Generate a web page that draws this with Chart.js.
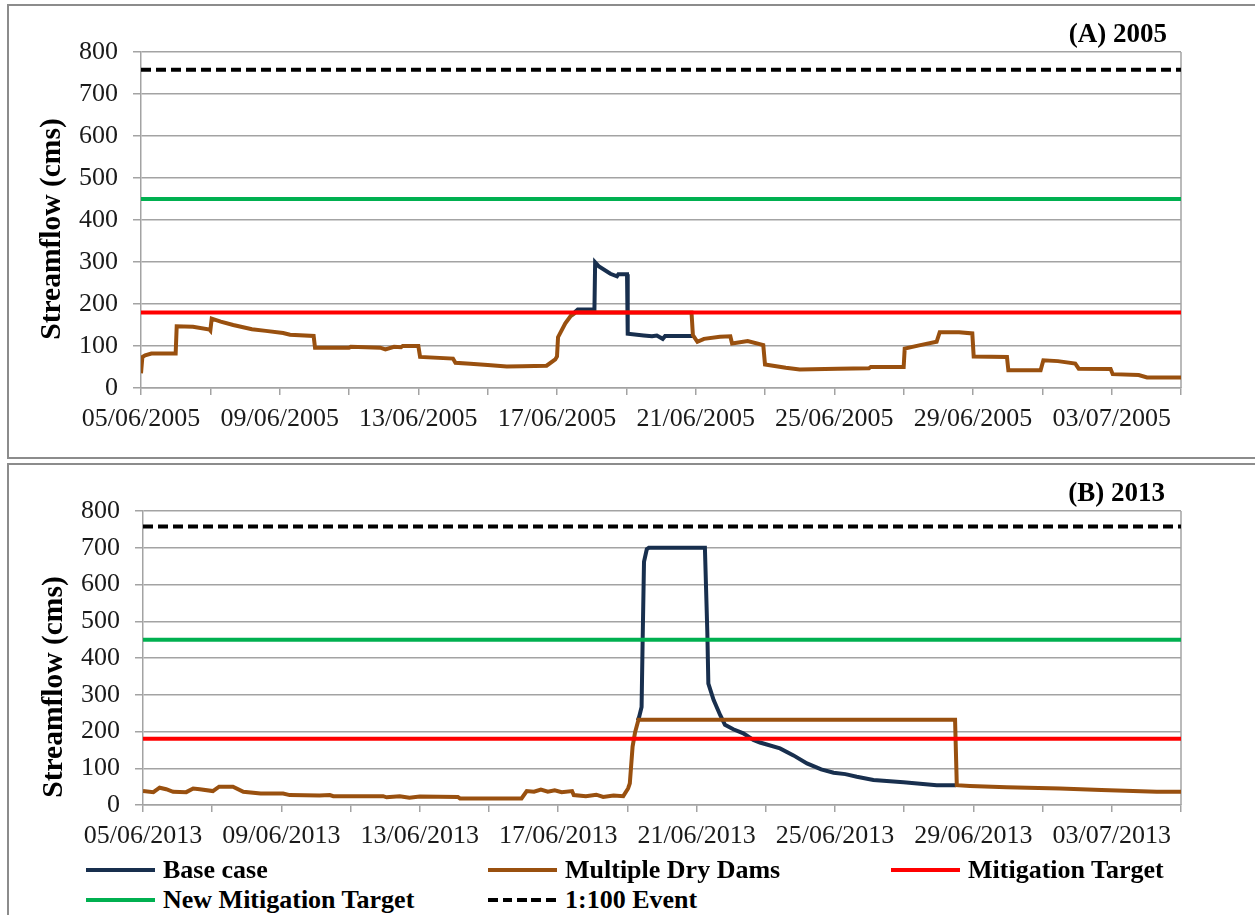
<!DOCTYPE html>
<html>
<head>
<meta charset="utf-8">
<script src="https://cdn.jsdelivr.net/npm/chart.js@4.4.1/dist/chart.umd.min.js"></script>
<style>
  body {
    margin: 0;
    width: 1255px;
    height: 915px;
    overflow: hidden;
    background: #fff;
    position: relative;
    font-family: "Liberation Serif", "Times New Roman", serif;
  }
  .box {
    position: absolute;
    left: 7px;
    width: 1320px;
    border: 2px solid #8c8c8c;
    box-sizing: border-box;
  }
  canvas { position: absolute; left: 0; }
  .panel-title {
    position: absolute;
    font-weight: bold;
    font-size: 27px;
    line-height: 30px;
    text-align: right;
    width: 300px;
  }
  .ytitle {
    position: absolute;
    font-weight: bold;
    font-size: 29.5px;
    line-height: 30px;
    width: 300px;
    text-align: center;
    transform: rotate(-90deg);
    white-space: nowrap;
  }
  .leg {
    position: absolute;
    font-weight: bold;
    font-size: 26px;
    line-height: 30px;
    white-space: nowrap;
    display: flex;
    align-items: center;
  }
  .leg .ln {
    display: inline-block;
    width: 69px;
    height: 4px;
    margin-right: 8px;
  }
</style>
</head>
<body>
<div class="box" style="top:4px; height:455px"></div>
<div class="box" style="top:463px; height:500px"></div>

<canvas id="chart2005" width="1255" height="460" style="top:0"></canvas>
<canvas id="chart2013" width="1255" height="400" style="top:460px"></canvas>

<div class="panel-title" style="left:867px; top:18px">(A) 2005</div>
<div class="panel-title" style="left:865px; top:477px">(B) 2013</div>
<div class="ytitle" style="left:-100px; top:214px">Streamflow (cms)</div>
<div class="ytitle" style="left:-98px; top:672px">Streamflow (cms)</div>

<div id="legend"></div>

<script>
// Colours of the series
const BASE_COLOR = '#182F4E';
const DAMS_COLOR = '#99500F';
const MITIGATION_COLOR = '#FF0000';
const NEW_MITIGATION_COLOR = '#00B050';
const EVENT_COLOR = '#000000';
const GRID_COLOR = '#a3a3a3';

// Flow thresholds (cms)
const mitigationTarget = 180;
const newMitigationTarget = 450;
const event100 = 758;

const yTicks = [0, 100, 200, 300, 400, 500, 600, 700, 800];

// 2005 event, days after 05/06/2005
const dams2005Day = [0, 0.04, 0.12, 0.3, 1.0, 1.03, 1.5, 1.98, 2.0, 2.04, 2.3, 2.66, 3.2, 3.6, 4.1, 4.3,
  4.98, 5.02, 6.0, 6.05, 6.9, 7.05, 7.3, 7.5, 7.55, 8.0, 8.05, 9.0, 9.07, 9.5, 10.0, 10.55, 11.0, 11.7,
  11.95, 12.0, 12.03, 12.24, 12.4, 12.55, 15.88, 15.92, 16.05, 16.24, 16.7, 17.0, 17.05, 17.5, 17.95,
  18.0, 18.6, 19.0, 20.1, 21.0, 21.05, 22.0, 22.03, 22.48, 22.95, 23.04, 23.6, 23.98, 24.02, 24.98,
  25.02, 25.95, 26.03, 26.45, 26.95, 27.05, 27.97, 28.03, 28.78, 29.02, 30];
const dams2005Flow = [35, 74, 78, 82, 82, 147, 146, 139, 137, 165, 158, 150, 140, 136, 131, 127,
  124, 96, 96, 98, 96, 92, 98, 97, 100, 100, 74, 70, 60, 58, 55, 51, 52, 53,
  68, 75, 121, 154, 172, 180, 180, 126, 110, 117, 122, 123, 106, 112, 102,
  56, 48, 44, 46, 47, 50, 50, 94, 102, 110, 133, 133, 130, 75, 74,
  42, 42, 66, 64, 58, 46, 45, 33, 31, 25, 25];
const base2005Day = [12.4, 12.6, 13.08, 13.1, 13.2, 13.54, 13.73, 13.77, 14.02, 14.04, 14.5, 14.74,
  14.88, 15.05, 15.12, 15.94];
const base2005Flow = [172, 187, 187, 299, 290, 272, 266, 271, 271, 129, 125, 123,
  125, 117, 124, 124];

// 2013 event, days after 05/06/2013
const dams2013Day = [0, 0.3, 0.48, 0.67, 0.87, 1.25, 1.45, 1.64, 2.02, 2.2, 2.6, 2.9, 3.4, 4.05, 4.24,
  5.1, 5.4, 5.5, 6.94, 7.04, 7.42, 7.7, 8.0, 9.1, 9.16, 10.94, 11.09, 11.3, 11.5, 11.7, 11.9, 12.1,
  12.4, 12.45, 12.8, 13.1, 13.3, 13.6, 13.88, 14.02, 14.07, 14.15, 14.22, 14.32, 23.47, 23.52, 23.9,
  24.96, 26.5, 27.7, 29.3, 30];
const dams2013Flow = [38, 35, 47, 43, 36, 35, 45, 43, 38, 50, 50, 36, 31, 31, 27,
  26, 27, 24, 24, 21, 24, 20, 23, 22, 18, 18, 38, 36, 42, 36, 40, 35,
  38, 27, 24, 28, 22, 26, 24, 45, 59, 159, 197, 232, 232, 54, 52,
  48, 45, 41, 36, 36];
const base2013Day = [14.3, 14.34, 14.41, 14.44, 14.48, 14.56, 14.62, 16.24, 16.31, 16.34, 16.49, 16.68,
  16.82, 17.06, 17.35, 17.64, 17.83, 18.41, 18.8, 19.19, 19.6, 19.96, 20.3, 20.63, 21.11, 21.98,
  22.94, 23.5];
const base2013Flow = [230, 240, 267, 444, 662, 696, 700, 700, 470, 330, 286, 245,
  218, 206, 195, 177, 170, 154, 135, 113, 97, 88, 84, 77, 68, 62,
  54, 54];

function toPoints(days, flows) {
  return days.map((d, i) => ({ x: d, y: flows[i] }));
}

function flatLine(value) {
  return [{ x: 0, y: value }, { x: 30, y: value }];
}

function formatDay(year, offset) {
  const dt = new Date(Date.UTC(year, 5, 5) + offset * 86400000);
  const dd = String(dt.getUTCDate()).padStart(2, '0');
  const mm = String(dt.getUTCMonth() + 1).padStart(2, '0');
  return dd + '/' + mm + '/' + dt.getUTCFullYear();
}

// right edge of the plot area
const plotFrame = {
  id: 'plotFrame',
  beforeDatasetsDraw(chart) {
    const { ctx, chartArea } = chart;
    ctx.save();
    ctx.strokeStyle = GRID_COLOR;
    ctx.lineWidth = 1.5;
    ctx.beginPath();
    ctx.moveTo(chartArea.right, chartArea.top);
    ctx.lineTo(chartArea.right, chartArea.bottom);
    ctx.stroke();
    ctx.restore();
  }
};

function renderPanel(canvasId, year, damsPts, basePts, area) {
  const canvas = document.getElementById(canvasId);
  const lineStyle = { pointRadius: 0, borderWidth: 4, tension: 0, fill: false };

  return new Chart(canvas, {
    type: 'line',
    data: {
      datasets: [
        { label: 'Base case', data: basePts, borderColor: BASE_COLOR, order: 5, ...lineStyle },
        { label: 'Multiple Dry Dams', data: damsPts, borderColor: DAMS_COLOR, order: 4, ...lineStyle },
        { label: 'Mitigation Target', data: flatLine(mitigationTarget), borderColor: MITIGATION_COLOR, order: 3, ...lineStyle },
        { label: 'New Mitigation Target', data: flatLine(newMitigationTarget), borderColor: NEW_MITIGATION_COLOR, order: 2, ...lineStyle },
        { label: '1:100 Event', data: flatLine(event100), borderColor: EVENT_COLOR, borderDash: [10, 5], order: 1, ...lineStyle }
      ]
    },
    options: {
      responsive: false,
      animation: false,
      layout: {
        padding: { left: 0, top: area.top, right: canvas.width - area.right, bottom: 0 }
      },
      plugins: {
        legend: { display: false },
        tooltip: { enabled: false }
      },
      scales: {
        x: {
          type: 'linear',
          min: 0,
          max: 30,
          afterFit: s => { s.height = canvas.height - area.bottom; },
          grid: { drawOnChartArea: false, drawTicks: true, tickLength: 7, color: GRID_COLOR, lineWidth: 1.5 },
          border: { display: true, color: GRID_COLOR, width: 1.5 },
          ticks: {
            stepSize: 2,
            autoSkip: false,
            maxRotation: 0,
            padding: 9,
            color: '#1a1a1a',
            font: { family: 'Liberation Serif', size: 26 },
            callback: v => (v % 4 === 0 && v < 30) ? formatDay(year, v) : ''
          }
        },
        y: {
          min: yTicks[0],
          max: yTicks[yTicks.length - 1],
          afterFit: s => { s.width = area.left; },
          grid: { color: GRID_COLOR, lineWidth: 1.5, tickLength: 8 },
          border: { display: true, color: GRID_COLOR, width: 1.5 },
          ticks: {
            stepSize: 100,
            padding: 15,
            color: '#1a1a1a',
            font: { family: 'Liberation Serif', size: 26 }
          }
        }
      }
    },
    plugins: [plotFrame]
  });
}

renderPanel('chart2005', 2005, toPoints(dams2005Day, dams2005Flow), toPoints(base2005Day, base2005Flow),
  { left: 141, right: 1181, top: 52, bottom: 388 });
renderPanel('chart2013', 2013, toPoints(dams2013Day, dams2013Flow), toPoints(base2013Day, base2013Flow),
  { left: 143, right: 1181, top: 51, bottom: 345 });

// legend below the 2013 panel
const legendItems = [
  { label: 'Base case', color: BASE_COLOR, dash: false, left: 86, top: 855 },
  { label: 'Multiple Dry Dams', color: DAMS_COLOR, dash: false, left: 488, top: 855 },
  { label: 'Mitigation Target', color: MITIGATION_COLOR, dash: false, left: 891, top: 855 },
  { label: 'New Mitigation Target', color: NEW_MITIGATION_COLOR, dash: false, left: 86, top: 885 },
  { label: '1:100 Event', color: EVENT_COLOR, dash: true, left: 488, top: 885 }
];
const legendEl = document.getElementById('legend');
legendItems.forEach(item => {
  const div = document.createElement('div');
  div.className = 'leg';
  div.style.left = item.left + 'px';
  div.style.top = item.top + 'px';
  const ln = document.createElement('span');
  ln.className = 'ln';
  ln.style.background = item.dash
    ? 'repeating-linear-gradient(to right, ' + item.color + ' 0 10px, transparent 10px 14.5px)'
    : item.color;
  div.appendChild(ln);
  div.appendChild(document.createTextNode(item.label));
  legendEl.appendChild(div);
});
</script>
</body>
</html>
